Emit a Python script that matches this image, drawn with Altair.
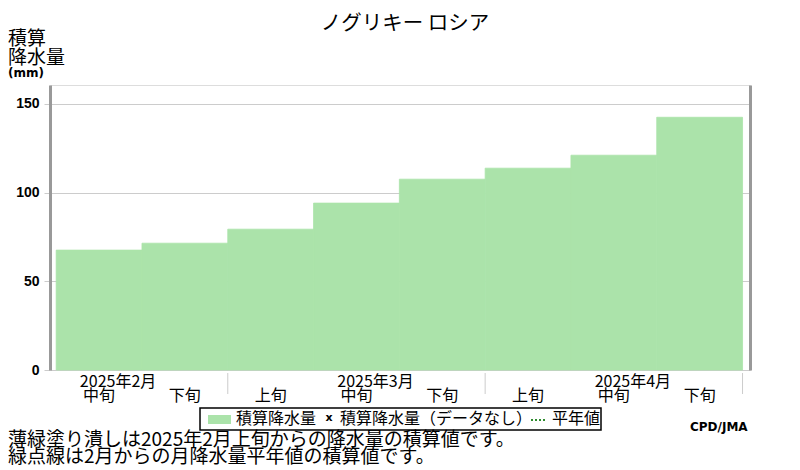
import altair as alt
import pandas as pd

# ---- data ----
dekad_labels = ["中旬", "下旬", "上旬", "中旬", "下旬", "上旬", "中旬", "下旬"]
accum_precip = [67.6, 71.5, 79.4, 94.1, 107.6, 113.8, 121.1, 142.5]
month_labels = ["2025年2月", "2025年3月", "2025年4月"]
month_first_dekad = [0, 3, 6]
month_separators = [2, 5, 8]
y_ticks = [0, 50, 100, 150]
title_text = "ノグリキー ロシア"
footnotes = ["薄緑塗り潰しは2025年2月上旬からの降水量の積算値です。",
             "緑点線は2月からの月降水量平年値の積算値です。"]
legend_texts = ["積算降水量", "積算降水量（データなし）", "平年値"]

JP = "Noto Sans CJK JP"
GREEN = "#abe3aa"
W, H = 700, 285

df = pd.DataFrame({
    "start": list(range(len(accum_precip))),
    "end": [i + 1 for i in range(len(accum_precip))],
    "center": [i + 0.5 for i in range(len(accum_precip))],
    "value": accum_precip,
    "label": dekad_labels,
})
mdf = pd.DataFrame({"pos": [i + 0.5 for i in month_first_dekad], "label": month_labels})
sdf = pd.DataFrame({"sep": month_separators})
one = pd.DataFrame({"a": [0]})

xscale = alt.Scale(domain=[-0.072, 8.087], nice=False, zero=False)
yscale = alt.Scale(domain=[0, 160.7], nice=False)

bars = alt.Chart(df).mark_rect(color=GREEN, stroke=GREEN, strokeWidth=0.8).encode(
    x=alt.X("start:Q", scale=xscale,
            axis=alt.Axis(labels=False, ticks=False, domainColor="#999999",
                          domainWidth=3, grid=False, title=None)),
    x2="end:Q",
    y=alt.Y("value:Q", scale=yscale,
            axis=alt.Axis(values=y_ticks, title=None, grid=True, gridColor="#cccccc",
                          domainColor="#999999", domainWidth=3, tickColor="#cccccc",
                          tickSize=6, labelFont="Liberation Sans", labelFontSize=14,
                          labelFontWeight="bold", labelColor="black", labelPadding=5)),
    y2=alt.datum(0),
)

right_axis = alt.Chart(df).mark_point(opacity=0).encode(
    x=alt.X("center:Q", scale=xscale, axis=None),
    y=alt.Y("value:Q", scale=yscale,
            axis=alt.Axis(orient="right", labels=False, ticks=False, grid=False,
                          title=None, domainColor="#999999", domainWidth=3)),
)

separators = alt.Chart(sdf).mark_rule(color="#cccccc", strokeWidth=1).encode(
    x=alt.X("sep:Q", scale=xscale, axis=None),
    y=alt.value(H + 3), y2=alt.value(H + 24),
)

dekad_text = alt.Chart(df).mark_text(font=JP, fontSize=16, color="black",
                                     baseline="middle").encode(
    x=alt.X("center:Q", scale=xscale, axis=None),
    y=alt.value(H + 26),
    text="label:N",
)

month_text = alt.Chart(mdf).mark_text(font=JP, fontSize=16, color="black",
                                      baseline="middle", dx=19).encode(
    x=alt.X("pos:Q", scale=xscale, axis=None),
    y=alt.value(H + 12),
    text="label:N",
)


def label(text, x, y, size, align="left", weight="normal", font=JP, color="black"):
    return alt.Chart(one).mark_text(text=text, font=font, fontSize=size, align=align,
                                    baseline="middle", fontWeight=weight,
                                    color=color).encode(x=alt.value(x), y=alt.value(y))


title = label(title_text, 355, -61, 20.5, align="center")
ytitle1 = label("積算", -42, -46, 19)
ytitle2 = label("降水量", -42, -27, 19)
ytitle3 = label("(mm)", -42, -12, 12, weight="bold", font="DejaVu Sans")

legend_box = alt.Chart(one).mark_rect(fill="white", stroke="black", strokeWidth=1.5).encode(
    x=alt.value(150), x2=alt.value(551), y=alt.value(323), y2=alt.value(345))
legend_swatch = alt.Chart(one).mark_rect(fill=GREEN).encode(
    x=alt.value(158), x2=alt.value(181), y=alt.value(330), y2=alt.value(339))
leg1 = label(legend_texts[0], 186, 334, 16)
legx = label("x", 279, 333, 11, align="center", weight="bold", font="DejaVu Sans")
leg2 = label(legend_texts[1], 290, 334, 16)
leg_line = alt.Chart(one).mark_rule(color="#2e8b2e", strokeWidth=2, strokeDash=[2, 2]).encode(
    x=alt.value(481), x2=alt.value(497), y=alt.value(335))
leg3 = label(legend_texts[2], 502, 334, 16)

credit = label("CPD/JMA", 640, 342, 12, weight="bold", font="DejaVu Sans")
foot1 = label(footnotes[0], -42, 355, 19)
foot2 = label(footnotes[1], -42, 372, 19)

chart = alt.layer(
    bars, right_axis, separators, dekad_text, month_text, title, ytitle1, ytitle2, ytitle3,
    legend_box, legend_swatch, leg1, legx, leg2, leg_line, leg3, credit, foot1, foot2,
).resolve_axis(y="independent").properties(
    width=W, height=H,
    autosize=alt.AutoSizeParams(type="none"),
    padding={"left": 42, "top": 77, "right": 42, "bottom": 98},
).configure_view(stroke=None).configure(background="white")

chart.save("out.html", embed_options={"renderer": "svg", "actions": False})
